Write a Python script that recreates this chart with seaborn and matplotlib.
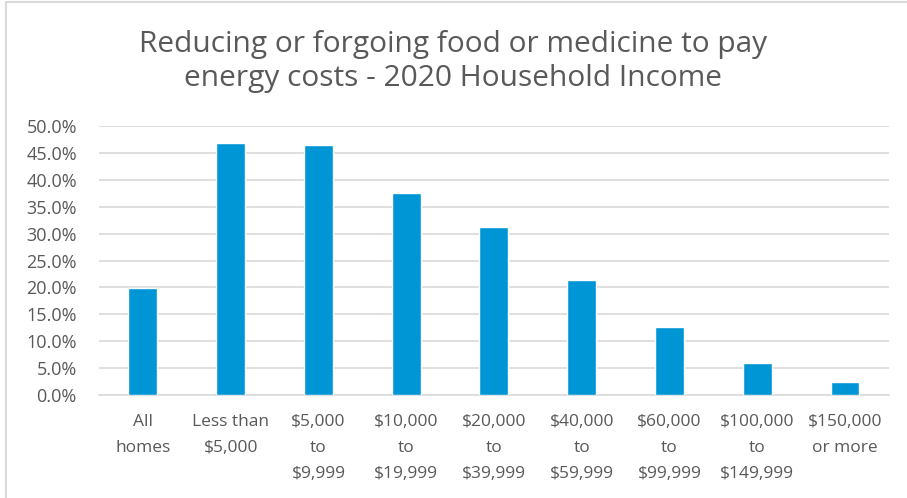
import matplotlib
matplotlib.use("Agg")
import matplotlib.pyplot as plt
import seaborn as sns
import pandas as pd
from matplotlib.ticker import PercentFormatter
from matplotlib.lines import Line2D

categories = ["All\nhomes", "Less than\n$5,000", "$5,000\nto\n$9,999", "$10,000\nto\n$19,999",
              "$20,000\nto\n$39,999", "$40,000\nto\n$59,999", "$60,000\nto\n$99,999",
              "$100,000\nto\n$149,999", "$150,000\nor more"]
values = [19.8, 46.8, 46.5, 37.5, 31.3, 21.4, 12.7, 5.9, 2.4]
yticks = [0, 5, 10, 15, 20, 25, 30, 35, 40, 45, 50]
title = "Reducing or forgoing food or medicine to pay\nenergy costs - 2020 Household Income"

df = pd.DataFrame({"cat": categories, "val": values})

sns.set_theme(style="white")
plt.rcParams["font.family"] = ["Open Sans", "DejaVu Sans"]

fig = plt.figure(figsize=(9.07, 4.98), dpi=100)
ax = fig.add_axes([0.1092, 0.2068, 0.8708, 0.5402])

sns.barplot(data=df, x="cat", y="val", color="#0096D6", width=0.33, ax=ax, saturation=1, zorder=3)

ax.set_ylim(0, 50)
ax.set_yticks(yticks)
ax.yaxis.set_major_formatter(PercentFormatter(decimals=1))
ax.grid(axis="y", color="#D9D9D9", linewidth=1.2, zorder=0)
ax.set_xlim(-0.5, len(categories) - 0.5)
for s in ["top", "right", "left"]:
    ax.spines[s].set_visible(False)
ax.spines["bottom"].set_color("#D9D9D9")
ax.spines["bottom"].set_linewidth(1.2)
ax.set_xlabel("")
ax.set_ylabel("")
ax.tick_params(axis="y", length=0, pad=16, labelsize=13, labelcolor="#595959")
ax.tick_params(axis="x", length=0, pad=14, labelsize=12.5, labelcolor="#595959")
for lbl in ax.get_xticklabels():
    lbl.set_linespacing(1.8)
    lbl.set_verticalalignment("top")

fig.text(0.5, 0.877, title, ha="center", va="center", fontsize=21.5, color="#595959", linespacing=1.25)

# chart border (top and left edges visible)
fig.add_artist(Line2D([6/907, 6/907], [0, 1 - 2/498], transform=fig.transFigure, color="#D9D9D9", linewidth=1.5))
fig.add_artist(Line2D([6/907, 1], [1 - 2/498, 1 - 2/498], transform=fig.transFigure, color="#D9D9D9", linewidth=1.5))

fig.savefig("out.png", dpi=100)
